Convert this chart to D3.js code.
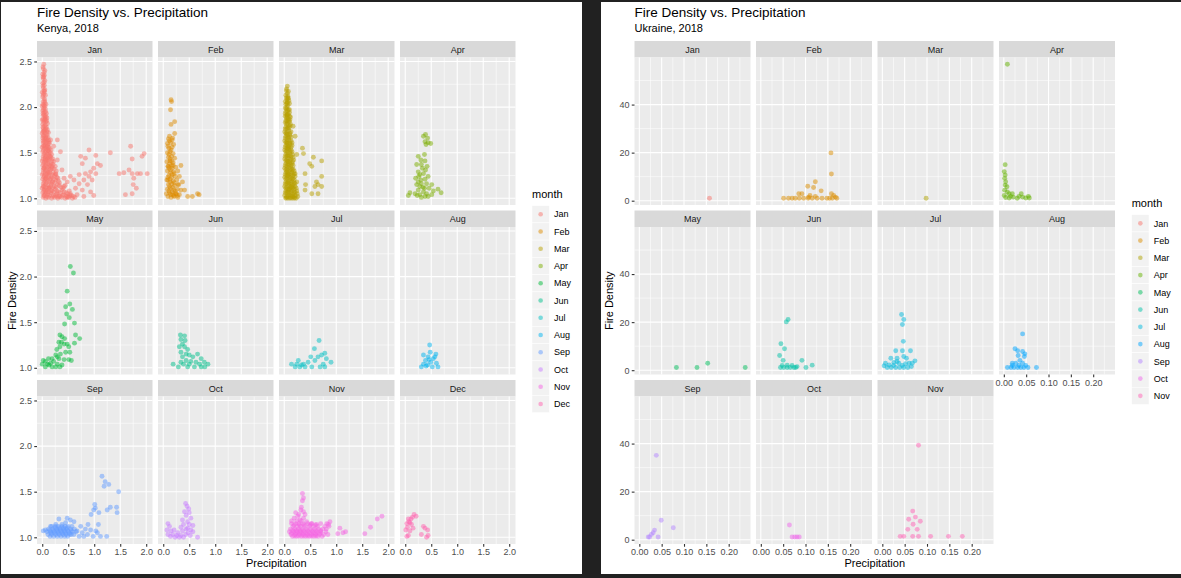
<!DOCTYPE html>
<html>
<head>
<meta charset="utf-8">
<script src="https://cdn.jsdelivr.net/npm/d3@7"></script>
<style>
  body { margin: 0; background: #212121; }
  svg { display: block; font-family: "Liberation Sans", Arial, Helvetica, sans-serif; }
</style>
</head>
<body>
<script>
// month names and ggplot hue colours
var kenyaMonths = ["Jan","Feb","Mar","Apr","May","Jun","Jul","Aug","Sep","Oct","Nov","Dec"];
var ukraineMonths = ["Jan","Feb","Mar","Apr","May","Jun","Jul","Aug","Sep","Oct","Nov"];
var kenyaColors = ["#F8766D","#DE8C00","#B79F00","#7CAE00","#00BA38","#00C08B","#00BFC4","#00B4F0","#619CFF","#C77CFF","#F564E3","#FF64B0"];
var ukraineColors = ["#F8766D","#DB8E00","#AEA200","#64B200","#00BD5C","#00C1A7","#00BADE","#00A6FF","#B385FF","#EF67EB","#FF63B6"];

var kenyaXTicks = [0, 0.5, 1, 1.5, 2];
var kenyaYTicks = [1, 1.5, 2, 2.5];
var ukraineXTicks = [0, 0.05, 0.1, 0.15, 0.2];
var ukraineYTicks = [0, 20, 40];

// Kenya 2018: [precipitation, fire density]
var kenyaJan = [[0.03,2.47],[0.02,2.42],[0.05,2.40],[0.01,2.36],[0.04,2.35],[0.02,2.31],[0.05,2.29],[0.01,2.26],[0.04,2.24],[0.02,2.21],[0.05,2.19],[0.00,2.16],[0.03,2.15],[0.06,2.13],[0.01,2.11],[0.04,2.09],[0.02,2.06],[0.05,2.05],[0.07,2.03],[0.00,2.01],[0.03,1.99],[0.06,1.98],[0.01,1.96],[0.04,1.94],[0.08,1.93],[0.02,1.91],[0.05,1.89],[0.09,1.88],[0.00,1.86],[0.03,1.85],[0.07,1.84],[0.10,1.82],[0.01,1.81],[0.04,1.79],[0.08,1.78],[0.02,1.76],[0.05,1.75],[0.09,1.73],[0.12,1.72],[0.00,1.71],[0.03,1.69],[0.07,1.68],[0.11,1.67],[0.01,1.66],[0.05,1.64],[0.09,1.63],[0.13,1.62],[0.02,1.61],[0.06,1.59],[0.10,1.58],[0.14,1.60],[0.00,1.56],[0.04,1.55],[0.08,1.54],[0.12,1.56],[0.17,1.53],[0.01,1.51],[0.05,1.50],[0.09,1.49],[0.13,1.51],[0.18,1.48],[0.02,1.46],[0.06,1.45],[0.10,1.44],[0.15,1.46],[0.20,1.43],[0.00,1.41],[0.04,1.40],[0.08,1.39],[0.12,1.41],[0.17,1.38],[0.22,1.40],[0.01,1.36],[0.05,1.35],[0.09,1.34],[0.14,1.36],[0.19,1.33],[0.25,1.35],[0.02,1.31],[0.06,1.30],[0.10,1.29],[0.15,1.31],[0.21,1.28],[0.27,1.30],[0.00,1.26],[0.04,1.25],[0.08,1.24],[0.13,1.26],[0.18,1.23],[0.24,1.25],[0.30,1.22],[0.01,1.21],[0.05,1.20],[0.10,1.19],[0.15,1.21],[0.20,1.18],[0.26,1.20],[0.33,1.17],[0.02,1.16],[0.06,1.15],[0.11,1.14],[0.17,1.16],[0.23,1.13],[0.29,1.15],[0.36,1.12],[0.44,1.14],[0.00,1.11],[0.04,1.10],[0.09,1.09],[0.14,1.11],[0.19,1.08],[0.25,1.10],[0.31,1.07],[0.38,1.09],[0.46,1.06],[0.52,1.08],[0.01,1.06],[0.06,1.05],[0.11,1.04],[0.16,1.06],[0.22,1.03],[0.28,1.05],[0.34,1.02],[0.41,1.04],[0.49,1.02],[0.56,1.03],[0.02,1.01],[0.07,1.00],[0.12,1.01],[0.18,1.00],[0.24,1.01],[0.30,1.00],[0.37,1.01],[0.44,1.00],[0.51,1.01],[0.58,1.00],[0.63,1.01],
  [0.03,1.03],[0.08,1.07],[0.13,1.12],[0.03,1.13],[0.07,1.22],[0.12,1.28],[0.03,1.33],[0.07,1.42],[0.11,1.52],[0.03,1.57],[0.07,1.65],[0.03,1.73],[0.06,1.87],[0.03,2.02],[0.03,2.18],[0.03,2.33],
  [0.015,2.44],[0.035,2.38],[0.015,2.33],[0.035,2.27],[0.015,2.23],[0.045,2.17],[0.02,2.13],[0.045,2.07],[0.015,2.03],[0.05,2.01],[0.025,1.97],[0.065,1.95],[0.015,1.93],[0.04,1.91],[0.07,1.90],[0.02,1.87],[0.05,1.86],[0.085,1.85],[0.025,1.83],[0.06,1.80],[0.015,1.78],[0.07,1.76],[0.035,1.74],[0.10,1.75],[0.015,1.73],[0.055,1.71],[0.09,1.70],[0.02,1.68],[0.04,1.66],[0.08,1.66],[0.12,1.64],[0.015,1.63],[0.04,1.62],[0.075,1.61],[0.115,1.60],[0.025,1.58],[0.06,1.57],[0.095,1.56],[0.14,1.55],[0.02,1.53],[0.07,1.52],[0.11,1.53],[0.155,1.50],[0.035,1.48],[0.075,1.47],[0.12,1.48],[0.165,1.45],[0.02,1.43],[0.055,1.43],[0.10,1.42],[0.14,1.43],[0.19,1.41],[0.025,1.38],[0.07,1.37],[0.115,1.38],[0.16,1.36],[0.21,1.37],[0.035,1.33],[0.08,1.32],[0.125,1.33],[0.17,1.32],[0.23,1.32],[0.02,1.28],[0.06,1.27],[0.10,1.27],[0.145,1.28],[0.20,1.26],[0.26,1.27],[0.03,1.23],[0.075,1.22],[0.12,1.23],[0.17,1.22],[0.22,1.21],[0.28,1.23],[0.035,1.18],[0.08,1.17],[0.135,1.18],[0.19,1.17],[0.24,1.17],[0.31,1.19],[0.02,1.13],[0.07,1.12],[0.12,1.11],[0.16,1.13],[0.21,1.12],[0.27,1.12],[0.33,1.14],[0.40,1.11],[0.03,1.08],[0.065,1.08],[0.12,1.07],[0.17,1.08],[0.22,1.07],[0.28,1.08],[0.35,1.06],[0.42,1.07],[0.49,1.05],[0.04,1.03],[0.09,1.02],[0.14,1.03],[0.20,1.02],[0.26,1.03],[0.32,1.02],[0.39,1.03],[0.46,1.02],[0.53,1.03],[0.60,1.02],
  [0.16,1.64],[0.29,1.64],[0.22,1.57],[0.35,1.51],[0.13,1.46],[0.29,1.42],[0.19,1.35],[0.38,1.31],[0.26,1.26],[0.42,1.22],
  [0.90,1.53],[1.03,1.47],[0.74,1.46],[0.83,1.44],[0.77,1.38],[1.06,1.38],[1.12,1.36],[0.99,1.33],[0.93,1.29],[0.83,1.27],[1.03,1.27],[0.71,1.26],[0.90,1.24],[0.54,1.24],[0.61,1.20],[0.80,1.20],[0.96,1.20],[0.48,1.18],[0.71,1.16],[0.87,1.15],[0.42,1.13],[0.64,1.11],[0.77,1.09],[0.93,1.07],[0.54,1.05],[0.67,1.04],[0.80,1.02],[0.99,1.03],[0.48,1.01],[0.29,1.02],
  [1.31,1.50],[1.70,1.57],[1.96,1.49],[1.92,1.46],[1.73,1.43],[1.48,1.27],[1.57,1.28],[1.67,1.31],[1.73,1.27],[1.83,1.27],[1.89,1.27],[2.02,1.27],[1.76,1.22],[1.75,1.15],[1.81,1.11],[1.73,1.05],[1.60,1.04]];
var kenyaFeb = [[0.10,1.65],[0.17,1.64],[0.08,1.60],[0.14,1.61],[0.20,1.59],[0.11,1.55],[0.17,1.56],[0.08,1.50],[0.13,1.51],[0.19,1.49],[0.10,1.45],[0.16,1.46],[0.22,1.44],[0.07,1.40],[0.13,1.41],[0.19,1.39],[0.10,1.35],[0.16,1.36],[0.24,1.34],[0.08,1.30],[0.14,1.31],[0.20,1.29],[0.28,1.30],[0.11,1.25],[0.17,1.26],[0.23,1.24],[0.07,1.20],[0.13,1.21],[0.19,1.19],[0.26,1.20],[0.10,1.15],[0.16,1.16],[0.22,1.14],[0.30,1.15],[0.08,1.10],[0.14,1.11],[0.20,1.09],[0.27,1.10],[0.34,1.09],[0.06,1.05],[0.12,1.06],[0.18,1.04],[0.24,1.05],[0.31,1.04],[0.09,1.02],[0.15,1.01],[0.21,1.02],[0.28,1.01],
  [0.12,1.63],[0.09,1.57],[0.15,1.53],[0.11,1.48],[0.13,1.43],[0.16,1.41],[0.12,1.38],[0.19,1.36],[0.11,1.33],[0.17,1.33],[0.14,1.28],[0.21,1.27],[0.09,1.23],[0.16,1.23],[0.13,1.18],[0.21,1.17],[0.12,1.13],[0.18,1.12],[0.11,1.08],[0.17,1.07],[0.23,1.08],[0.14,1.04],[0.20,1.03],[0.27,1.03],
  [0.15,2.08],[0.16,2.06],[0.14,1.97],[0.22,1.84],[0.15,1.81],[0.22,1.71],[0.12,1.68],[0.18,1.66],[0.34,1.36],[0.31,1.24],[0.37,1.18],[0.28,1.15],[0.41,1.09],[0.47,1.02],[0.56,1.02],[0.66,1.05],[0.69,1.04],[0.25,1.05],[0.09,1.35],[0.09,1.20]];
var kenyaMar = [[0.06,2.23],[0.04,2.18],[0.08,2.17],[0.03,2.13],[0.07,2.12],[0.05,2.08],[0.09,2.07],[0.03,2.03],[0.07,2.02],[0.10,2.04],[0.04,1.98],[0.08,1.97],[0.02,1.93],[0.06,1.92],[0.10,1.94],[0.04,1.88],[0.08,1.87],[0.12,1.89],[0.02,1.83],[0.06,1.82],[0.10,1.84],[0.03,1.78],[0.07,1.77],[0.11,1.79],[0.01,1.73],[0.05,1.72],[0.09,1.74],[0.13,1.73],[0.03,1.68],[0.07,1.67],[0.11,1.69],[0.01,1.63],[0.05,1.62],[0.09,1.64],[0.13,1.63],[0.03,1.58],[0.07,1.57],[0.11,1.59],[0.15,1.58],[0.01,1.53],[0.05,1.52],[0.09,1.54],[0.13,1.53],[0.03,1.48],[0.07,1.47],[0.11,1.49],[0.16,1.48],[0.01,1.43],[0.05,1.42],[0.09,1.44],[0.13,1.43],[0.18,1.42],[0.03,1.38],[0.07,1.37],[0.11,1.39],[0.15,1.38],[0.01,1.33],[0.05,1.32],[0.09,1.34],[0.13,1.33],[0.17,1.32],[0.03,1.28],[0.07,1.27],[0.11,1.29],[0.15,1.28],[0.19,1.27],[0.01,1.23],[0.05,1.22],[0.09,1.24],[0.13,1.23],[0.17,1.22],[0.03,1.18],[0.07,1.17],[0.11,1.19],[0.15,1.18],[0.19,1.17],[0.01,1.13],[0.05,1.12],[0.09,1.14],[0.13,1.13],[0.17,1.12],[0.21,1.13],[0.03,1.08],[0.07,1.07],[0.11,1.09],[0.15,1.08],[0.19,1.07],[0.24,1.08],[0.01,1.03],[0.05,1.02],[0.09,1.04],[0.13,1.03],[0.17,1.02],[0.21,1.03],[0.26,1.02],[0.03,1.00],[0.07,1.00],[0.11,1.00],[0.15,1.00],[0.19,1.00],
  [0.05,2.00],[0.05,1.85],[0.05,1.70],[0.07,1.55],[0.07,1.40],[0.07,1.25],[0.09,1.10],[0.05,1.06],[0.05,1.16],[0.05,1.29],[0.05,1.46],[0.05,1.60],[0.05,1.76],[0.05,1.91],[0.07,2.10],
  [0.045,2.20],[0.06,2.15],[0.04,2.10],[0.08,2.095],[0.06,2.05],[0.02,2.06],[0.05,2.04],[0.02,1.99],[0.06,1.96],[0.10,1.97],[0.03,1.95],[0.08,1.92],[0.02,1.90],[0.06,1.895],[0.10,1.90],[0.03,1.85],[0.08,1.85],[0.11,1.86],[0.04,1.81],[0.08,1.80],[0.12,1.81],[0.02,1.76],[0.09,1.77],[0.03,1.71],[0.07,1.70],[0.11,1.71],[0.02,1.66],[0.05,1.65],[0.09,1.66],[0.13,1.67],[0.03,1.61],[0.07,1.60],[0.11,1.61],[0.15,1.61],[0.02,1.56],[0.05,1.55],[0.09,1.56],[0.13,1.56],[0.03,1.51],[0.07,1.50],[0.11,1.51],[0.15,1.51],[0.02,1.46],[0.09,1.46],[0.13,1.46],[0.17,1.45],[0.03,1.41],[0.07,1.40],[0.11,1.41],[0.16,1.40],[0.02,1.36],[0.05,1.35],[0.09,1.36],[0.13,1.36],[0.17,1.36],[0.03,1.31],[0.07,1.30],[0.11,1.31],[0.15,1.31],[0.19,1.30],[0.02,1.26],[0.05,1.25],[0.09,1.26],[0.13,1.26],[0.17,1.25],[0.21,1.24],[0.03,1.21],[0.07,1.20],[0.11,1.21],[0.15,1.21],[0.19,1.20],[0.02,1.16],[0.09,1.16],[0.13,1.16],[0.17,1.15],[0.21,1.16],[0.03,1.11],[0.07,1.10],[0.11,1.11],[0.15,1.11],[0.19,1.10],[0.23,1.11],[0.02,1.06],[0.09,1.06],[0.13,1.06],[0.17,1.05],[0.21,1.06],[0.25,1.05],[0.04,1.01],[0.08,1.02],[0.12,1.01],[0.16,1.02],[0.20,1.01],[0.23,1.00],
  [0.17,1.79],[0.21,1.68],[0.35,1.55],[0.37,1.49],[0.24,1.48],[0.56,1.45],[0.72,1.41],[0.49,1.38],[0.53,1.35],[0.40,1.27],[0.72,1.24],[0.62,1.18],[0.41,1.15],[0.65,1.15],[0.59,1.13],[0.72,1.13],[0.53,1.05],[0.65,1.05],[0.40,1.09],[0.14,1.13],[0.21,1.27],[0.24,1.18]];
var kenyaApr = [[0.39,1.70],[0.35,1.68],[0.43,1.66],[0.38,1.62],[0.44,1.61],[0.40,1.59],[0.49,1.60],[0.37,1.48],[0.25,1.46],[0.30,1.42],[0.38,1.41],[0.22,1.37],[0.31,1.37],[0.39,1.31],[0.25,1.29],[0.35,1.27],[0.28,1.26],[0.44,1.24],[0.20,1.22],[0.38,1.21],[0.25,1.18],[0.31,1.16],[0.41,1.16],[0.51,1.15],[0.22,1.15],[0.28,1.13],[0.37,1.11],[0.46,1.11],[0.25,1.09],[0.35,1.07],[0.54,1.08],[0.63,1.10],[0.69,1.06],[0.41,1.05],[0.51,1.04],[0.28,1.04],[0.19,1.05],[0.09,1.06],[0.06,1.03],[0.38,1.02],[0.44,1.02],[0.31,1.01],[0.26,1.24],[0.33,1.33],[0.42,1.35],[0.30,1.20],[0.34,1.12],[0.23,1.03]];
var kenyaMay = [[0.54,2.11],[0.60,2.04],[0.48,1.84],[0.53,1.70],[0.45,1.67],[0.58,1.64],[0.47,1.59],[0.52,1.55],[0.62,1.49],[0.43,1.48],[0.64,1.36],[0.72,1.32],[0.34,1.36],[0.38,1.34],[0.32,1.28],[0.42,1.26],[0.48,1.26],[0.51,1.23],[0.62,1.27],[0.45,1.17],[0.53,1.17],[0.28,1.20],[0.35,1.15],[0.26,1.14],[0.32,1.10],[0.42,1.09],[0.51,1.09],[0.22,1.07],[0.16,1.05],[0.29,1.04],[0.38,1.03],[0.10,1.04],[0.02,1.08],[0.00,1.04],[0.06,1.01],[0.13,1.03],[0.19,1.01],[0.26,1.01],[0.34,1.01],[0.37,1.28],[0.34,1.23],[0.43,1.32],[0.29,1.12],[0.56,1.08],[0.06,1.07],[0.19,1.10],[0.12,1.10]];
var kenyaJun = [[0.33,1.36],[0.41,1.35],[0.34,1.31],[0.42,1.30],[0.37,1.26],[0.31,1.23],[0.41,1.23],[0.47,1.20],[0.34,1.17],[0.44,1.15],[0.50,1.14],[0.66,1.15],[0.37,1.12],[0.57,1.12],[0.73,1.10],[0.44,1.08],[0.53,1.07],[0.63,1.06],[0.79,1.06],[0.86,1.04],[0.34,1.06],[0.19,1.04],[0.29,1.01],[0.47,1.01],[0.60,1.01],[0.73,1.01],[0.80,1.01],[0.39,1.04],[0.70,1.04],[0.50,1.04]];
var kenyaJul = [[0.67,1.30],[0.58,1.21],[0.78,1.16],[0.72,1.14],[0.65,1.12],[0.51,1.12],[0.81,1.10],[0.59,1.08],[0.90,1.06],[0.75,1.04],[0.46,1.06],[0.37,1.04],[0.27,1.08],[0.24,1.04],[0.33,1.03],[0.14,1.04],[0.21,1.01],[0.30,1.01],[0.53,1.01],[0.69,1.01],[0.78,1.01],[0.40,1.01]];
var kenyaAug = [[0.47,1.25],[0.48,1.17],[0.35,1.14],[0.59,1.15],[0.44,1.12],[0.54,1.10],[0.39,1.08],[0.49,1.06],[0.60,1.05],[0.35,1.04],[0.43,1.03],[0.52,1.01],[0.63,1.01],[0.31,1.01],[0.57,1.12],[0.40,1.02],[0.46,1.09]];
var kenyaSep = [[1.15,1.67],[1.21,1.61],[1.28,1.58],[1.19,1.56],[1.47,1.50],[1.01,1.36],[1.02,1.32],[0.99,1.30],[1.09,1.27],[0.94,1.25],[1.31,1.33],[1.25,1.30],[1.43,1.33],[1.44,1.27],[0.88,1.14],[1.08,1.14],[1.03,1.07],[1.06,1.05],[1.12,1.01],[1.24,1.01],[0.98,1.01],
  [0.32,1.20],[0.48,1.21],[0.54,1.19],[0.45,1.16],[0.61,1.17],[0.38,1.14],[0.26,1.14],[0.16,1.12],[0.06,1.08],[0.02,1.07],[0.74,1.12],[0.83,1.09],[0.93,1.08],[0.67,1.07],[0.77,1.05],[0.56,1.03],[0.87,1.03],[0.71,1.01],[0.80,1.01],
  [0.18,1.12],[0.25,1.12],[0.31,1.12],[0.38,1.12],[0.44,1.12],[0.50,1.12],[0.57,1.12],[0.12,1.09],[0.20,1.09],[0.28,1.09],[0.34,1.09],[0.41,1.09],[0.47,1.09],[0.55,1.09],[0.62,1.09],[0.09,1.06],[0.16,1.06],[0.23,1.06],[0.30,1.06],[0.37,1.06],[0.43,1.06],[0.50,1.06],[0.58,1.06],[0.65,1.06],[0.11,1.03],[0.18,1.03],[0.26,1.03],[0.33,1.03],[0.40,1.03],[0.46,1.03],[0.53,1.03],[0.61,1.03],[0.15,1.01],[0.22,1.01],[0.29,1.01],[0.36,1.01],[0.43,1.01],[0.49,1.01],
  [0.14,1.075],[0.21,1.075],[0.28,1.075],[0.35,1.075],[0.42,1.075],[0.49,1.075],[0.56,1.075],[0.17,1.045],[0.24,1.045],[0.31,1.045],[0.38,1.045],[0.45,1.045],[0.52,1.045],[0.25,1.105],[0.33,1.105],[0.41,1.105],[0.48,1.105]];
var kenyaOct = [[0.43,1.37],[0.46,1.34],[0.49,1.31],[0.41,1.28],[0.50,1.27],[0.44,1.24],[0.53,1.21],[0.37,1.19],[0.47,1.17],[0.39,1.14],[0.50,1.14],[0.57,1.13],[0.34,1.11],[0.44,1.09],[0.09,1.15],[0.12,1.12],[0.07,1.08],[0.15,1.07],[0.21,1.08],[0.28,1.05],[0.37,1.07],[0.48,1.05],[0.57,1.06],[0.09,1.03],[0.18,1.03],[0.26,1.02],[0.34,1.02],[0.43,1.03],[0.52,1.02],[0.66,1.00],[0.14,1.01],[0.23,1.00],[0.39,1.00],[0.31,1.00],[0.47,1.10],[0.53,1.08]];
var kenyaNov = [[0.35,1.48],[0.37,1.43],[0.33,1.33],[0.35,1.40],[0.22,1.27],[0.40,1.25],[0.19,1.21],[0.30,1.19],[0.43,1.17],[0.53,1.15],[0.62,1.14],[0.88,1.17],[0.85,1.14],[0.81,1.09],[1.07,1.10],[1.03,1.04],[1.13,1.05],[1.18,1.06],[1.66,1.11],[1.79,1.20],[1.88,1.23],[1.55,1.04],
  [0.32,1.30],[0.37,1.28],[0.28,1.25],[0.37,1.21],[0.26,1.23],
  [0.14,1.15],[0.22,1.15],[0.28,1.15],[0.36,1.15],[0.45,1.15],[0.52,1.15],[0.70,1.15],[0.82,1.15],[0.17,1.12],[0.25,1.12],[0.32,1.12],[0.40,1.12],[0.48,1.12],[0.56,1.12],[0.64,1.12],[0.78,1.12],[0.86,1.12],[0.12,1.09],[0.20,1.09],[0.27,1.09],[0.34,1.09],[0.42,1.09],[0.50,1.09],[0.58,1.09],[0.66,1.09],[0.74,1.09],[0.10,1.06],[0.18,1.06],[0.25,1.06],[0.31,1.06],[0.38,1.06],[0.46,1.06],[0.54,1.06],[0.62,1.06],[0.70,1.06],[0.80,1.06],[0.13,1.03],[0.21,1.03],[0.29,1.03],[0.36,1.03],[0.44,1.03],[0.52,1.03],[0.60,1.03],[0.68,1.03],[0.76,1.03],[0.84,1.03],[0.16,1.01],[0.24,1.01],[0.33,1.01],[0.41,1.01],[0.49,1.01],[0.57,1.01],[0.65,1.01],[0.73,1.01],
  [0.14,1.18],[0.24,1.18],[0.33,1.18],[0.19,1.135],[0.29,1.135],[0.38,1.135],[0.50,1.135],[0.60,1.135],[0.16,1.075],[0.23,1.075],[0.30,1.075],[0.37,1.075],[0.45,1.075],[0.53,1.075],[0.61,1.075],[0.70,1.075],[0.14,1.045],[0.22,1.045],[0.29,1.045],[0.37,1.045],[0.45,1.045],[0.53,1.045],[0.61,1.045],[0.69,1.045],[0.20,1.015],[0.28,1.015],[0.37,1.015],[0.45,1.015],[0.53,1.015],[0.61,1.015]];
var kenyaDec = [[0.17,1.25],[0.14,1.22],[0.11,1.20],[0.06,1.20],[0.09,1.16],[0.03,1.15],[0.12,1.14],[0.04,1.11],[0.15,1.10],[0.01,1.08],[0.09,1.07],[0.06,1.02],[0.03,1.01],[0.35,1.12],[0.38,1.10],[0.43,1.08],[0.31,1.03],[0.44,1.02],[0.41,1.00],[0.21,1.23],[0.07,1.17]];

// Ukraine 2018
var ukraineJan = [[0.157,1.0]];
var ukraineFeb = [[0.157,19.9],[0.158,11.1],[0.122,7.9],[0.105,6.0],[0.118,5.5],[0.135,4.1],[0.085,2.9],[0.092,2.9],[0.110,2.2],[0.158,2.9],[0.163,2.2],[0.167,1.5],[0.051,1.0],[0.062,1.0],[0.070,1.0],[0.077,1.0],[0.086,1.0],[0.096,1.0],[0.106,1.0],[0.115,1.0],[0.126,1.0],[0.137,1.0],[0.148,1.0],[0.154,1.0],[0.160,1.0],[0.170,1.0],[0.107,1.5],[0.122,1.8]];
var ukraineMar = [[0.098,1.0]];
var ukraineApr = [[0.008,56.8],[0.003,15.0],[0.001,12.1],[0.003,10.7],[0.002,9.3],[0.004,7.9],[0.003,6.5],[0.007,5.8],[0.002,4.4],[0.008,3.6],[0.012,2.9],[0.019,2.9],[0.039,2.9],[0.001,2.2],[0.004,1.3],[0.012,1.1],[0.021,1.5],[0.030,1.0],[0.042,1.5],[0.049,1.1],[0.055,1.8],[0.034,1.8],[0.015,1.8],[0.057,1.1]];
var ukraineMay = [[0.083,1.1],[0.129,1.1],[0.153,2.9],[0.237,1.1]];
var ukraineJun = [[0.061,21.1],[0.057,20.1],[0.045,11.0],[0.053,8.9],[0.042,6.1],[0.050,4.1],[0.092,4.1],[0.115,2.1],[0.101,1.1],[0.044,1.1],[0.051,1.1],[0.059,1.1],[0.066,1.1],[0.074,1.1],[0.081,1.5],[0.048,2.0],[0.059,2.1],[0.070,2.0],[0.078,1.1]];
var ukraineJul = [[0.043,23.2],[0.048,21.1],[0.045,19.0],[0.047,12.0],[0.030,8.1],[0.045,8.1],[0.063,8.1],[0.019,5.0],[0.033,5.0],[0.048,5.7],[0.054,5.0],[0.073,3.9],[0.007,2.9],[0.015,2.2],[0.026,3.2],[0.037,2.9],[0.060,2.9],[0.004,1.8],[0.011,1.1],[0.020,1.1],[0.030,1.1],[0.039,1.1],[0.048,1.1],[0.057,1.1],[0.065,1.5],[0.025,2.0],[0.045,2.0],[0.052,2.7],[0.067,2.9],[0.033,3.6]];
var ukraineAug = [[0.042,15.1],[0.025,8.9],[0.031,8.1],[0.042,7.8],[0.047,6.8],[0.032,6.1],[0.046,5.7],[0.036,4.1],[0.019,2.9],[0.027,2.9],[0.042,2.9],[0.008,1.1],[0.016,1.1],[0.023,1.1],[0.031,1.1],[0.038,1.1],[0.045,1.1],[0.054,1.1],[0.073,1.1],[0.019,2.0],[0.034,2.0],[0.049,2.0]];
var ukraineSep = [[0.038,35.1],[0.049,8.1],[0.076,5.0],[0.034,4.0],[0.031,2.9],[0.027,2.2],[0.023,1.1],[0.042,1.1],[0.020,1.1]];
var ukraineOct = [[0.064,6.1],[0.070,1.1],[0.076,1.1],[0.081,1.1],[0.086,1.1]];
var ukraineNov = [[0.081,39.3],[0.059,8.5],[0.068,11.9],[0.074,9.4],[0.057,4.3],[0.048,1.4],[0.068,1.4],[0.081,1.4],[0.108,1.4],[0.148,1.4],[0.179,1.4],[0.069,6.4],[0.040,1.4],[0.078,4.3],[0.085,7.7]];

var svg = d3.select("body").append("svg")
  .attr("width", 1181)
  .attr("height", 578);

// two white sheets on the dark background
svg.append("rect").attr("x", 1).attr("y", 2).attr("width", 581).attr("height", 572).attr("fill", "#fff");
svg.append("rect").attr("x", 601).attr("y", 2).attr("width", 580).attr("height", 572).attr("fill", "#fff");

var stripTop = 41, stripH = 16.5, panelH = 147.5, gap = 5.5, ncol = 4;

// ggplot-like scale expansion of 5%
function expanded(vals) {
  var ext = d3.extent(vals);
  var pad = (ext[1] - ext[0]) * 0.05;
  return [ext[0] - pad, ext[1] + pad];
}

// minor breaks half way between the major ones
function minorTicks(major, domain) {
  var step = major[1] - major[0];
  var out = [];
  for (var i = -1; i < major.length; i++) {
    var v = major[0] + (i + 0.5) * step;
    if (v > domain[0] && v < domain[1]) out.push(v);
  }
  return out;
}

function drawFacets(opt) {
  var n = opt.months.length;
  var pw = (opt.right - opt.left - gap * (ncol - 1)) / ncol;
  var allPts = [];
  opt.series.forEach(function(s) { allPts = allPts.concat(s); });

  var x = d3.scaleLinear().domain(expanded(allPts.map(function(d){ return d[0]; }))).range([0, pw]);
  var y = d3.scaleLinear().domain(expanded(allPts.map(function(d){ return d[1]; }))).range([panelH, 0]);
  var xMinor = minorTicks(opt.xTicks, x.domain());
  var yMinor = minorTicks(opt.yTicks, y.domain());
  var nrow = Math.ceil(n / ncol);

  opt.months.forEach(function(m, i) {
    var col = i % ncol, row = Math.floor(i / ncol);
    var px = opt.left + col * (pw + gap);
    var sy = stripTop + row * (stripH + panelH + gap);
    var py = sy + stripH;

    svg.append("rect").attr("x", px).attr("y", sy).attr("width", pw).attr("height", stripH).attr("fill", "#D9D9D9");
    svg.append("text").attr("x", px + pw / 2).attr("y", sy + 11.7)
      .attr("text-anchor", "middle").attr("font-size", 9).attr("fill", "#1A1A1A").text(m);

    var g = svg.append("g").attr("transform", "translate(" + px + "," + py + ")");
    g.append("rect").attr("width", pw).attr("height", panelH).attr("fill", "#EBEBEB");

    g.selectAll(".vminor").data(xMinor).enter().append("line")
      .attr("x1", function(d){ return x(d); }).attr("x2", function(d){ return x(d); })
      .attr("y1", 0).attr("y2", panelH).attr("stroke", "#fff").attr("stroke-width", 0.55);
    g.selectAll(".hminor").data(yMinor).enter().append("line")
      .attr("y1", function(d){ return y(d); }).attr("y2", function(d){ return y(d); })
      .attr("x1", 0).attr("x2", pw).attr("stroke", "#fff").attr("stroke-width", 0.55);
    g.selectAll(".vmajor").data(opt.xTicks).enter().append("line")
      .attr("x1", function(d){ return x(d); }).attr("x2", function(d){ return x(d); })
      .attr("y1", 0).attr("y2", panelH).attr("stroke", "#fff").attr("stroke-width", 1.1);
    g.selectAll(".hmajor").data(opt.yTicks).enter().append("line")
      .attr("y1", function(d){ return y(d); }).attr("y2", function(d){ return y(d); })
      .attr("x1", 0).attr("x2", pw).attr("stroke", "#fff").attr("stroke-width", 1.1);

    var clipId = opt.id + "clip" + i;
    g.append("clipPath").attr("id", clipId).append("rect").attr("width", pw).attr("height", panelH);
    g.append("g").attr("clip-path", "url(#" + clipId + ")")
      .selectAll("circle").data(opt.series[i]).enter().append("circle")
      .attr("cx", function(d){ return x(d[0]); })
      .attr("cy", function(d){ return y(d[1]); })
      .attr("r", 2.45)
      .attr("fill", opt.colors[i])
      .attr("fill-opacity", 0.5);

    if (col === 0) {
      var ay = g.append("g").call(d3.axisLeft(y).tickValues(opt.yTicks).tickFormat(opt.yFormat).tickSize(2.75).tickPadding(2.2));
      styleAxis(ay);
    }
    if (row === nrow - 1 || i + ncol >= n) {
      var ax = g.append("g").attr("transform", "translate(0," + panelH + ")")
        .call(d3.axisBottom(x).tickValues(opt.xTicks).tickFormat(opt.xFormat).tickSize(2.75).tickPadding(2.2));
      styleAxis(ax);
    }
  });

  var panelsTop = stripTop + stripH;
  var panelsBottom = stripTop + nrow * (stripH + panelH) + (nrow - 1) * gap;

  svg.append("text").attr("x", opt.left).attr("y", 17.3).attr("font-size", 13.5).attr("fill", "#000").text("Fire Density vs. Precipitation");
  svg.append("text").attr("x", opt.left).attr("y", 32.3).attr("font-size", 11).attr("fill", "#000").text(opt.subtitle);

  svg.append("text").attr("x", (opt.left + opt.right) / 2).attr("y", 567)
    .attr("text-anchor", "middle").attr("font-size", 11).attr("fill", "#000").text("Precipitation");
  svg.append("text")
    .attr("transform", "translate(" + opt.yTitleX + "," + ((panelsTop + panelsBottom) / 2) + ") rotate(-90)")
    .attr("text-anchor", "middle").attr("font-size", 11).attr("fill", "#000").text("Fire Density");

  // legend
  var keyH = 17.25, keyW = 17.3;
  var keyTop = opt.legendTop;
  svg.append("text").attr("x", opt.legendX).attr("y", keyTop - 7.5).attr("font-size", 11).attr("fill", "#000").text("month");
  var lg = svg.append("g").selectAll("g").data(opt.months).enter().append("g")
    .attr("transform", function(d, i){ return "translate(" + opt.legendX + "," + (keyTop + i * keyH) + ")"; });
  lg.append("rect").attr("width", keyW).attr("height", keyH).attr("fill", "#F2F2F2").attr("stroke", "#fff").attr("stroke-width", 0.5);
  lg.append("circle").attr("cx", keyW / 2).attr("cy", keyH / 2).attr("r", 2.3)
    .attr("fill", function(d, i){ return opt.colors[i]; }).attr("fill-opacity", 0.5);
  lg.append("text").attr("x", keyW + 4.7).attr("y", keyH / 2 + 3.2).attr("font-size", 9).attr("fill", "#000").text(function(d){ return d; });
}

function styleAxis(a) {
  a.select(".domain").remove();
  a.selectAll(".tick line").attr("stroke", "#333333").attr("stroke-width", 1.1);
  a.selectAll(".tick text").attr("fill", "#4D4D4D").attr("font-size", 9)
    .attr("font-family", "'Liberation Sans', Arial, Helvetica, sans-serif");
}

drawFacets({
  id: "ke",
  months: kenyaMonths,
  colors: kenyaColors,
  series: [kenyaJan, kenyaFeb, kenyaMar, kenyaApr, kenyaMay, kenyaJun, kenyaJul, kenyaAug, kenyaSep, kenyaOct, kenyaNov, kenyaDec],
  xTicks: kenyaXTicks,
  yTicks: kenyaYTicks,
  xFormat: d3.format(".1f"),
  yFormat: d3.format(".1f"),
  subtitle: "Kenya, 2018",
  left: 37,
  right: 515.5,
  yTitleX: 15.5,
  legendX: 532,
  legendTop: 205.6
});

drawFacets({
  id: "ua",
  months: ukraineMonths,
  colors: ukraineColors,
  series: [ukraineJan, ukraineFeb, ukraineMar, ukraineApr, ukraineMay, ukraineJun, ukraineJul, ukraineAug, ukraineSep, ukraineOct, ukraineNov],
  xTicks: ukraineXTicks,
  yTicks: ukraineYTicks,
  xFormat: d3.format(".2f"),
  yFormat: d3.format("d"),
  subtitle: "Ukraine, 2018",
  left: 634.5,
  right: 1115,
  yTitleX: 613,
  legendX: 1131.7,
  legendTop: 214.7
});
</script>
</body>
</html>
